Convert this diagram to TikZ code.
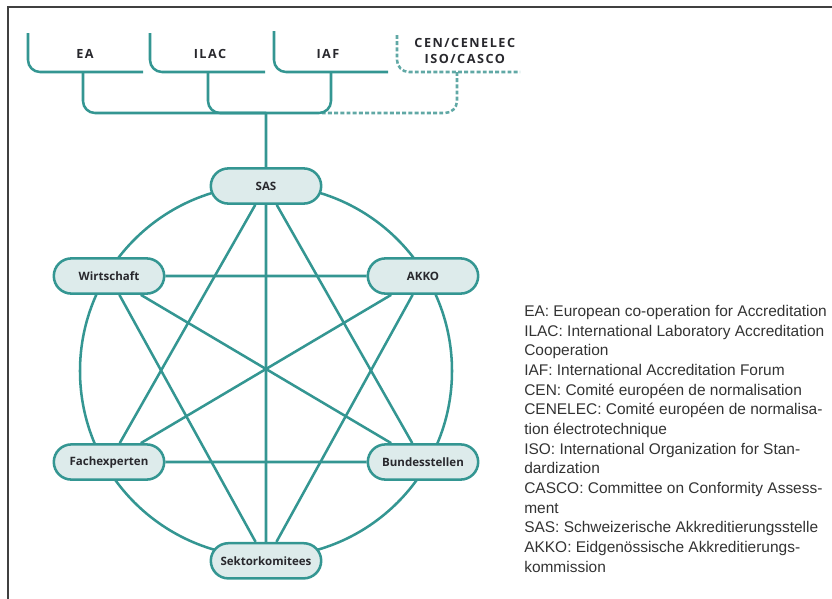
\documentclass[tikz,border=0pt]{standalone}
\usepackage{fontspec}
\setmainfont{Liberation Sans}
\newfontfamily\orgfont{Open Sans}
\newfontfamily\grpfont[LetterSpace=12]{Open Sans}
\usepackage{tikz}
\usetikzlibrary{positioning,shapes.misc}

\definecolor{sasteal}{RGB}{52,150,146}
\definecolor{sasfill}{RGB}{221,235,235}
\definecolor{sasdash}{RGB}{96,168,165}
\definecolor{sasink}{RGB}{40,40,45}

\tikzset{
  link/.style={line width=1.8pt, sasteal},
  rim/.style={line width=1pt, black!75}
}

\begin{document}
\begin{tikzpicture}[
    org/.style={rounded rectangle, draw=sasteal, line width=1.8pt, fill=sasfill, minimum width=2.9cm, minimum height=0.88cm, inner sep=2pt, text=sasink, font=\orgfont\bfseries\fontsize{8.2}{9}\selectfont},
    grp/.style={align=center, text=sasink, font=\grpfont\bfseries\fontsize{9}{11.5}\selectfont},
    bracket/.style={link, rounded corners=0.3cm},
    bracketdash/.style={line width=1.8pt, sasdash, dash pattern=on 2.8pt off 1.6pt, rounded corners=0.3cm},
    keytext/.style={align=left, inner sep=0pt, text=black!80, font=\fontsize{11}{14}\selectfont}
  ]
    \path[use as bounding box] (0,0) rectangle (20.8,-14.975);
    \draw[rim] (0.2,-14.975) -- (0.2,-0.175) -- (20.8,-0.175);

    % international bodies
    \node[grp] (ea) at (2.125,-1.35) {EA};
    \node[grp] (ilac) at (5.25,-1.35) {ILAC};
    \node[grp] (iaf) at (8.2,-1.35) {IAF};
    \node[grp] (cen) at (11.62,-1.275) {CEN/CENELEC\\ISO/CASCO};

    \draw[bracket] (0.7,-0.825) |- (3.575,-1.8);
    \draw[bracket] (3.75,-0.825) |- (6.625,-1.8);
    \draw[bracket] (6.85,-0.775) |- (9.7,-1.8);
    \draw[bracketdash] (9.925,-0.875) |- (13.0,-1.8);

    \coordinate (eatap) at (2.075,-1.8);
    \coordinate (ilactap) at (5.2,-1.8);
    \coordinate (iaftap) at (8.275,-1.8);
    \coordinate (centap) at (11.425,-1.8);
    \coordinate (bus) at (6.65,-2.825);
    \coordinate (busend) at (8.0,-2.825);

    \draw[bracketdash] (centap) |- (busend);
    \draw[bracket] (eatap) |- (bus);
    \draw[bracket] (ilactap) |- (bus);
    \draw[bracket] (iaftap) |- (bus);

    % ring of partners
    \draw[link] (6.65,-9.275) circle (4.65);

    \node[org] (sas) at (6.65,-4.65) {SAS};
    \node[org] (wirt) at (2.725,-6.9) {Wirtschaft};
    \node[org] (akko) at (10.575,-6.9) {AKKO};
    \node[org] (fach) at (2.725,-11.55) {Fachexperten};
    \node[org] (bund) at (10.575,-11.55) {Bundesstellen};
    \node[org] (sekt) at (6.65,-14.02) {Sektorkomitees};

    \draw[link] (bus) -- (sas);

    \draw[link] (sas) -- (sekt);
    \draw[link] (sas) -- (fach);
    \draw[link] (sas) -- (bund);
    \draw[link] (wirt) -- (akko);
    \draw[link] (wirt) -- (bund);
    \draw[link] (wirt) -- (sekt);
    \draw[link] (akko) -- (fach);
    \draw[link] (akko) -- (sekt);
    \draw[link] (fach) -- (bund);

    \node[keytext, anchor=north west] (key) at (13.1,-7.625) {EA: European co-operation for Accreditation\\
      ILAC: International Laboratory Accreditation\\
      Cooperation\\
      IAF: International Accreditation Forum\\
      CEN: Comité européen de normalisation\\
      CENELEC: Comité européen de normalisa-\\
      tion électrotechnique\\
      ISO: International Organization for Stan-\\
      dardization\\
      CASCO: Committee on Conformity Assess-\\
      ment\\
      SAS: Schweizerische Akkreditierungsstelle\\
      AKKO: Eidgenössische Akkreditierungs-\\
      kommission};
  \end{tikzpicture}
\end{document}
